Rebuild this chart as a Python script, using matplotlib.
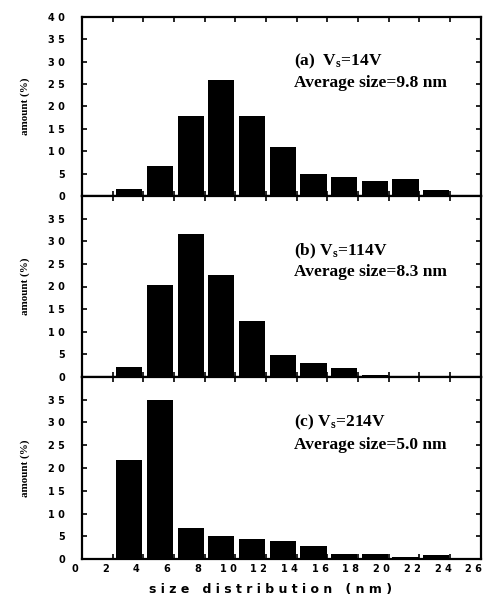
import numpy as np
import matplotlib
matplotlib.use('Agg')
import matplotlib.pyplot as plt
import matplotlib.transforms as mtransforms

# bin centres (nm) and amounts (%)
size_bins = [3, 5, 7, 9, 11, 13, 15, 17, 19, 21, 23]
amount_a = [1.5, 6.7, 17.8, 25.8, 17.8, 10.9, 4.9, 4.3, 3.3, 3.8, 1.3]
amount_b = [2.1, 20.4, 31.5, 22.5, 12.3, 4.9, 3.0, 1.9, 0.4, 0.3, 0.0]
amount_c = [21.8, 35.0, 6.8, 5.0, 4.5, 4.0, 2.9, 1.1, 1.0, 0.4, 0.9]

panel_titles = [r'(a)  V$_\mathrm{s}$=14V', r'(b) V$_\mathrm{s}$=114V', r'(c) V$_\mathrm{s}$=214V']
avg_labels = ['Average size=9.8 nm', 'Average size=8.3 nm', 'Average size=5.0 nm']

xticks = list(range(0, 27, 2))
xtick_labels = ['0', '2', '4', '6', '8', '1 0', '1 2', '1 4', '1 6', '1 8', '2 0', '2 2', '2 4', '2 6']
yticks = list(range(0, 41, 5))
ytick_labels = ['0', '5', '1 0', '1 5', '2 0', '2 5', '3 0', '3 5', '4 0']

plt.rcParams['mathtext.fontset'] = 'custom'
plt.rcParams['mathtext.rm'] = 'Liberation Serif:bold'
plt.rcParams['mathtext.it'] = 'Liberation Serif:bold:italic'
plt.rcParams['mathtext.bf'] = 'Liberation Serif:bold'

fig = plt.figure(figsize=(4.86, 6.0), dpi=100)
left, right = 0.1685, 0.989
bottoms = [0.6733, 0.3717, 0.0683]
tops = [0.972, 0.6733, 0.3717]
text_y = [(30, 25.3), (27.8, 23.3), (30, 25.0)]

data = [amount_a, amount_b, amount_c]
for i in range(3):
    ax = fig.add_axes([left, bottoms[i], right - left, tops[i] - bottoms[i]])
    ax.bar(np.array(size_bins) + 0.1, data[i], width=1.7, color='black', edgecolor='none')
    ax.set_xlim(0, 26)
    ax.set_ylim(0, 40)
    for sp in ax.spines.values():
        sp.set_linewidth(1.6)
    ax.tick_params(direction='in', top=True, right=True, length=3.5, width=1.2)
    ax.set_xticks(xticks)
    ax.set_yticks(yticks)
    if i == 0:
        ax.set_yticklabels(ytick_labels, fontfamily='DejaVu Sans', fontweight='bold', fontsize=7)
    else:
        ax.set_yticklabels(ytick_labels[:-1] + [''], fontfamily='DejaVu Sans', fontweight='bold', fontsize=7)
    if i == 2:
        ax.set_xticklabels(xtick_labels, fontfamily='DejaVu Sans', fontweight='bold', fontsize=7)
        shift = mtransforms.ScaledTranslation(-7 / 100, 0, fig.dpi_scale_trans)
        for lab in ax.get_xticklabels():
            lab.set_transform(lab.get_transform() + shift)
        ax.set_xlabel('s i z e   d i s t r i b u t i o n   ( n m )', fontfamily='DejaVu Sans',
                      fontweight='bold', fontsize=9)
        ax.xaxis.set_label_coords(0.472, -0.13)
    else:
        ax.set_xticklabels([])
    ax.tick_params(axis='y', pad=12)
    ax.set_ylabel('amount (%)', fontfamily='Liberation Serif', fontweight='bold', fontsize=8, labelpad=13)
    ax.text(13.8, text_y[i][0], panel_titles[i], fontfamily='Liberation Serif', fontweight='bold',
            fontsize=12.5, va='center')
    ax.text(13.8, text_y[i][1], avg_labels[i], fontfamily='Liberation Serif', fontweight='bold',
            fontsize=12.5, va='center')

plt.savefig('out.png', dpi=100)
